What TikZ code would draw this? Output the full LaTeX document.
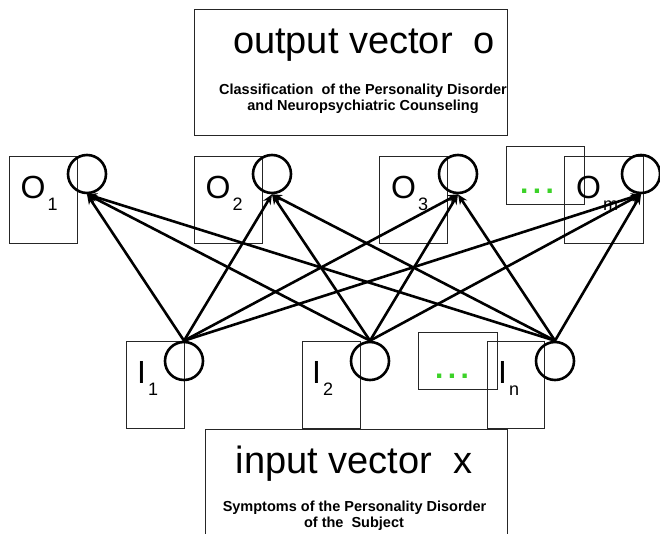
\documentclass[tikz,border=0pt]{standalone}
\usepackage{fontspec}
\setmainfont{Liberation Sans}
\usetikzlibrary{arrows.meta}
\definecolor{dotgreen}{RGB}{60,210,40}
\newcommand\labsub[1]{\kern2pt\raisebox{-12pt}{\fontsize{18}{18}\selectfont #1}}
\begin{document}
\begin{tikzpicture}[x=1pt,y=-1pt,
  frame/.style={draw=black!85, line width=0.9pt, inner sep=0pt},
  whiteframe/.style={frame, fill=white},
  neuron/.style={circle, draw, line width=2.6pt, minimum size=38pt, inner sep=0pt},
  link/.style={line width=2.6pt, -{Stealth[length=10pt,width=8.5pt]}},
  lab/.style={anchor=base west, inner sep=0pt, font=\fontsize{32}{32}\selectfont},
  title/.style={anchor=base, inner sep=0pt, font=\fontsize{38}{38}\selectfont},
  sub/.style={anchor=base, inner sep=0pt, font=\bfseries\fontsize{14.5}{16}\selectfont},
  dots/.style={anchor=base, inner sep=0pt, text=dotgreen, font=\bfseries\fontsize{30}{30}\selectfont}
]
\useasboundingbox (0,0) rectangle (660,533);
\clip (0,0) rectangle (660,533);

% top title box
\node[frame, minimum width=313pt, minimum height=126pt] (topbox) at (350.5,72) {};
\node[title] (toptitle) at (364,53) {output vector\ \ o};
\node[sub] (topsub1) at (363,94) {Classification\ \ of the Personality Disorder};
\node[sub] (topsub2) at (363,110) {and Neuropsychiatric Counseling};

% output label boxes
\node[frame, minimum width=68pt, minimum height=87pt] (ob1) at (43,199.5) {};
\node[frame, minimum width=68pt, minimum height=87pt] (ob2) at (228,199.5) {};
\node[frame, minimum width=68pt, minimum height=87pt] (ob3) at (413,199.5) {};
\node[frame, minimum width=79pt, minimum height=87pt] (ob4) at (603.5,199.5) {};
\node[frame, minimum width=78pt, minimum height=58pt] (obdots) at (545,175) {};
\node[dots] (odots) at (537,193) {.\kern4.5pt.\kern4.5pt.};

\node[lab] (lo1) at (20.5,198) {O\labsub{1}};
\node[lab] (lo2) at (205.5,198) {O\labsub{2}};
\node[lab] (lo3) at (391,198) {O\labsub{3}};
\node[lab] (lo4) at (576,198) {O\labsub{m}};

% input label boxes
\node[frame, minimum width=58pt, minimum height=87pt] (ib1) at (155,384.5) {};
\node[frame, minimum width=58pt, minimum height=87pt] (ib2) at (331,384.5) {};
\node[frame, minimum width=57pt, minimum height=87pt] (ib3) at (515.5,384.5) {};
\node[frame, minimum width=79pt, minimum height=57pt] (ibdots) at (457.5,360.5) {};
\node[dots] (idots) at (452,378) {.\kern4.5pt.\kern4.5pt.};

\node[lab] (li1) at (137,383) {I\labsub{1}};
\node[lab] (li2) at (312,383) {I\labsub{2}};
\node[lab] (li3) at (498,383) {I\labsub{n}};

% neurons
\node[neuron] (o1) at (87,174) {};
\node[neuron] (o2) at (272,174) {};
\node[neuron] (o3) at (458,174) {};
\node[neuron] (o4) at (641,174) {};
\node[neuron] (i1) at (184,361) {};
\node[neuron] (i2) at (370,361) {};
\node[neuron] (i3) at (555,361) {};

\foreach \a in {i1,i2,i3}
  \foreach \b in {o1,o2,o3,o4}
    \draw[link] (\a.north) -- (\b.south);

% bottom input box
\node[whiteframe, minimum width=302pt, minimum height=140pt] (botbox) at (356,499) {};
\node[title] (bottitle) at (354,473) {input vector\ \ x};
\node[sub] (botsub1) at (354.5,511) {Symptoms of the Personality Disorder};
\node[sub] (botsub2) at (354,527) {of the\ \ Subject};
\end{tikzpicture}
\end{document}
